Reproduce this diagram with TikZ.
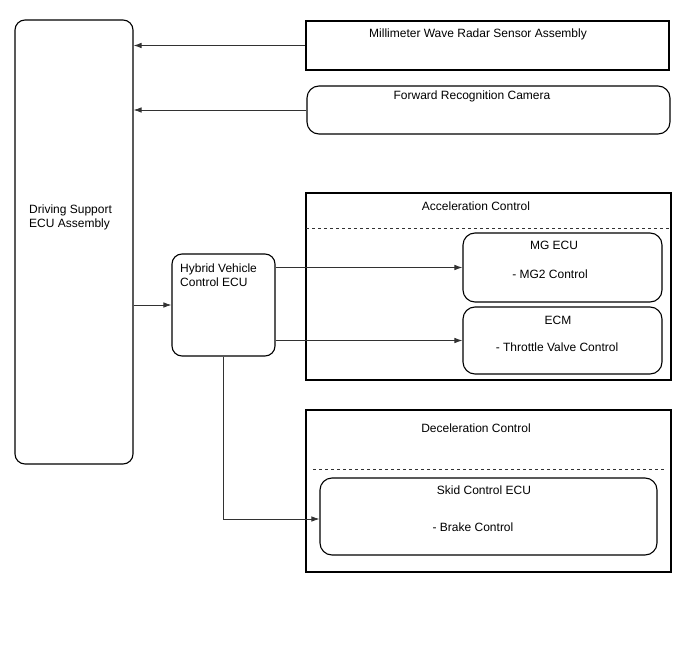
\documentclass[tikz,border=0pt]{standalone}
\usepackage{fontspec}
\setmainfont{Liberation Sans}
\usepackage{tikz}
\usetikzlibrary{arrows.meta,positioning,calc}
\definecolor{LineGray}{RGB}{50,50,50}

\begin{document}
\begin{tikzpicture}[x=1pt,y=-1pt,
 font=\fontsize{12}{14}\selectfont,
 unit/.style={draw=black,line width=1.1pt,rounded corners=10pt,inner sep=0pt},
 frame/.style={draw=black,line width=1.1pt,inner sep=0pt},
 txt/.style={inner sep=0pt,align=center},
 sep/.style={dashed,draw=LineGray,line width=0.9pt},
 flow/.style={-{Latex[length=8pt,width=5.5pt]},line width=0.8pt,draw=LineGray}]
\useasboundingbox (0,0) rectangle (688,658);
% units
\node[unit,minimum width=118pt,minimum height=444pt] (dsecu) at (74,242) {};
\node[txt,anchor=west,align=left] (dsecutxt) at (29,217) {Driving Support\\ECU Assembly};
\node[frame,minimum width=363pt,minimum height=49pt] (radar) at (487.5,45.5) {};
\node[txt] (radartxt) at (478,34) {Millimeter Wave Radar Sensor Assembly};
\node[unit,minimum width=363pt,minimum height=48pt,rounded corners=12pt] (camera) at (488.5,110) {};
\node[txt] (cameratxt) at (472,96) {Forward Recognition Camera};
\node[unit,minimum width=103pt,minimum height=102pt] (hv) at (223.5,305) {};
\node[txt,anchor=west,align=left] (hvtxt) at (180,275) {Hybrid Vehicle\\Control ECU};
% acceleration control
\node[frame,minimum width=365pt,minimum height=187pt] (accel) at (488.5,286.5) {};
\node[txt] (acceltxt) at (476,206) {Acceleration Control};
\draw[sep] (306,228) -- (671,228);
\node[unit,minimum width=199pt,minimum height=69pt,rounded corners=12pt] (mg) at (562.5,267.5) {};
\node[txt] (mgtxt) at (554,245) {MG ECU};
\node[txt] (mgsub) at (550,274) {- MG2 Control};
\node[unit,minimum width=199pt,minimum height=67pt,rounded corners=12pt] (ecm) at (562.5,340.5) {};
\node[txt] (ecmtxt) at (558,320) {ECM};
\node[txt] (ecmsub) at (557,347) {- Throttle Valve Control};
% deceleration control
\node[frame,minimum width=365pt,minimum height=162pt] (decel) at (488.5,491) {};
\node[txt] (deceltxt) at (476,428) {Deceleration Control};
\draw[sep] (313,469) -- (665,469);
\node[unit,minimum width=337pt,minimum height=77pt,rounded corners=12pt] (skid) at (488.5,516.5) {};
\node[txt] (skidtxt) at (484,490) {Skid Control ECU};
\node[txt] (skidsub) at (473,527) {- Brake Control};
% connectors
\draw[flow] (radar.west) -- (radar.west -| dsecu.east);
\draw[flow] (camera.west) -- (camera.west -| dsecu.east);
\draw[flow] (dsecu.east |- hv.west) -- (hv.west);
\draw[flow] (hv.east |- mg.west) -- (mg.west);
\draw[flow] (hv.east |- ecm.west) -- (ecm.west);
\draw[flow] (hv.south) |- ([yshift=-2.5pt]skid.west);
\end{tikzpicture}
\end{document}
